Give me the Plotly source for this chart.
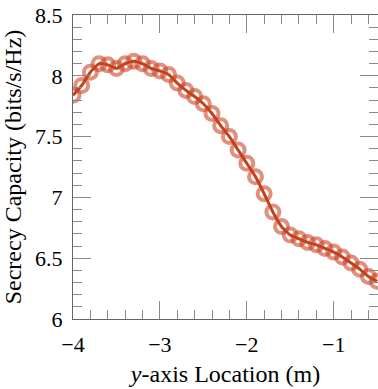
import plotly.graph_objects as go

x_loc = [-4.0, -3.9, -3.8, -3.7, -3.6, -3.5, -3.4, -3.3, -3.2, -3.1, -3.0,
         -2.9, -2.8, -2.7, -2.6, -2.5, -2.4, -2.3, -2.2, -2.1, -2.0,
         -1.9, -1.8, -1.7, -1.6, -1.5, -1.4, -1.3, -1.2, -1.1, -1.0,
         -0.9, -0.8, -0.7, -0.6, -0.5]
capacity = [7.84, 7.92, 8.03, 8.10, 8.09, 8.06, 8.10, 8.12, 8.10, 8.06, 8.04,
            8.01, 7.94, 7.88, 7.83, 7.77, 7.69, 7.59, 7.50, 7.39, 7.28,
            7.17, 7.03, 6.88, 6.76, 6.69, 6.66, 6.63, 6.61, 6.58, 6.55,
            6.51, 6.46, 6.41, 6.35, 6.31]

x_ticks = [-4, -3, -2, -1]
y_ticks = [6, 6.5, 7, 7.5, 8, 8.5]
y_tick_text = ["6", "6.5", "7", "7.5", "8", "8.5"]
x_tick_text = ["\u22124", "\u22123", "\u22122", "\u22121"]

FONT = "Liberation Serif"

fig = go.Figure()
fig.add_trace(go.Scatter(
    x=x_loc, y=capacity, mode="markers",
    marker=dict(symbol="circle-open", size=13, color="rgba(205,70,40,0.6)",
                line=dict(width=4, color="rgba(205,70,40,0.6)")),
    showlegend=False, hoverinfo="skip"))
fig.add_trace(go.Scatter(
    x=x_loc, y=capacity, mode="lines",
    line=dict(color="#c2421d", width=3, shape="spline", smoothing=0.4),
    showlegend=False))

axis_common = dict(
    showline=True, linecolor="#666666", linewidth=1, mirror="ticks",
    ticks="inside", ticklen=18, tickcolor="#8a8a8a", tickwidth=1,
    showgrid=False, zeroline=False, automargin=False,
    tickfont=dict(family=FONT, size=22, color="black"),
)

fig.update_xaxes(
    range=[-4, -0.49], tickvals=x_ticks, ticktext=x_tick_text,
    minor=dict(dtick=0.2, ticks="inside", ticklen=9, tickcolor="#8a8a8a", showgrid=False),
    title=dict(text="<i>y</i>-axis Location (m)", font=dict(family=FONT, size=24, color="black"),
               standoff=8),
    ticklabelstandoff=6,
    **axis_common)
fig.update_yaxes(
    range=[6, 8.5], tickvals=y_ticks, ticktext=y_tick_text,
    minor=dict(dtick=0.1, ticks="inside", ticklen=9, tickcolor="#8a8a8a", showgrid=False),
    title=dict(text="Secrecy Capacity (bits/s/Hz)", font=dict(family=FONT, size=24, color="black"),
               standoff=6),
    ticklabelstandoff=5,
    **axis_common)

fig.update_layout(
    width=378, height=389,
    margin=dict(l=73, r=0, t=15, b=70),
    paper_bgcolor="white", plot_bgcolor="white",
    font=dict(family=FONT, color="black"),
)

fig.write_html(
    "out.html",
    config={"displayModeBar": False},
    post_script="document.body.style.margin='0';document.body.style.overflow='hidden';",
)
